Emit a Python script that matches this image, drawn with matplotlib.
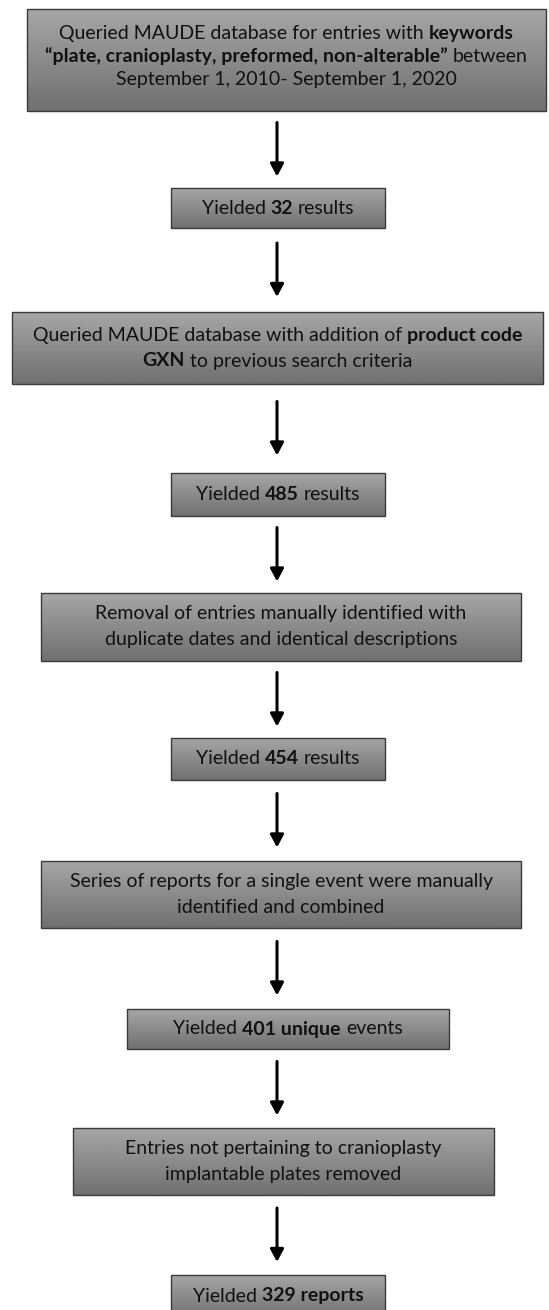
import numpy as np
import matplotlib.pyplot as plt
from matplotlib.patches import Rectangle

plt.rcParams['font.family'] = ['Lato', 'DejaVu Sans']

# counts reported in the flow
yields = [32, 485, 454, 401, 329]

# text of every step: lines made of (text, bold) pieces
steps = [
    [[("Queried MAUDE database for entries with", False), ("keywords", True)],
     [("\u201cplate, cranioplasty, preformed, non-alterable\u201d", True), ("between", False)],
     [("September 1, 2010- September 1, 2020", False)]],
    [[("Yielded", False), (str(yields[0]), True), ("results", False)]],
    [[("Queried MAUDE database with addition of", False), ("product code", True)],
     [("GXN", True), ("to previous search criteria", False)]],
    [[("Yielded", False), (str(yields[1]), True), ("results", False)]],
    [[("Removal of entries manually identified with", False)],
     [("duplicate dates and identical descriptions", False)]],
    [[("Yielded", False), (str(yields[2]), True), ("results", False)]],
    [[("Series of reports for a single event were manually", False)],
     [("identified and combined", False)]],
    [[("Yielded", False), (str(yields[3]) + " unique", True), ("events", False)]],
    [[("Entries not pertaining to cranioplasty", False)],
     [("implantable plates removed", False)]],
    [[("Yielded", False), (str(yields[4]) + " reports", True)]],
]

# box layout in pixels: x0, x1, y0, y1 (y grows downward)
boxes = [
    (27, 546, 9, 111),
    (171, 385, 188, 228),
    (12, 543, 312, 384),
    (171, 385, 473, 516),
    (41, 521, 593, 661),
    (171, 385, 738, 780),
    (41, 521, 861, 928),
    (127, 449, 1009, 1049),
    (73, 494, 1128, 1195),
    (171, 385, 1275, 1318),
]

W, H = 549, 1310
FS = 14
ARROW_X = 277
ARROW_LEN = 54

fig = plt.figure(figsize=(W / 100, H / 100), dpi=100)
ax = fig.add_axes([0, 0, 1, 1])
ax.set_xlim(0, W)
ax.set_ylim(H, 0)
ax.axis('off')
renderer = fig.canvas.get_renderer()

grad = np.linspace(0.65, 0.44, 64).reshape(-1, 1)


def text_width(s, bold):
    t = ax.text(0, 0, s, fontsize=FS, fontweight='bold' if bold else 'normal')
    w = t.get_window_extent(renderer).width
    t.remove()
    return w


space_w = text_width("x x", False) - text_width("xx", False)


def draw_line(segs, xc, y):
    texts, widths = [], []
    for s, b in segs:
        t = ax.text(0, y, s, fontsize=FS, fontweight='bold' if b else 'normal',
                    ha='left', va='center', color='#111111', zorder=5)
        widths.append(t.get_window_extent(renderer).width)
        texts.append(t)
    x = xc - (sum(widths) + space_w * (len(segs) - 1)) / 2
    for t, w in zip(texts, widths):
        t.set_x(x)
        x += w + space_w


for i, ((x0, x1, y0, y1), lines) in enumerate(zip(boxes, steps)):
    ax.imshow(grad, cmap='gray', vmin=0, vmax=1, aspect='auto',
              extent=(x0, x1, y1, y0), interpolation='bilinear', zorder=1)
    ax.add_patch(Rectangle((x0, y0), x1 - x0, y1 - y0, fill=False,
                           ec='#3a3a3a', lw=1.0, zorder=2))
    xc = (x0 + x1) / 2
    if i == 0:
        yc, gap = 56, 23
    elif i == len(boxes) - 1:
        yc, gap = 1296, 26
    else:
        yc, gap = (y0 + y1) / 2, 26
    n = len(lines)
    for k, segs in enumerate(lines):
        draw_line(segs, xc, yc + (k - (n - 1) / 2) * gap)

# arrows centred in the gaps between boxes
for (_, _, _, b), (_, _, t, _) in zip(boxes[:-1], boxes[1:]):
    mid = (b + t) / 2
    ax.annotate('', xy=(ARROW_X, mid + ARROW_LEN / 2), xytext=(ARROW_X, mid - ARROW_LEN / 2),
                arrowprops=dict(arrowstyle='-|>,head_length=0.75,head_width=0.4',
                                lw=2.2, color='black', shrinkA=0, shrinkB=0,
                                mutation_scale=10), zorder=3)

fig.savefig('out.png', dpi=100)
